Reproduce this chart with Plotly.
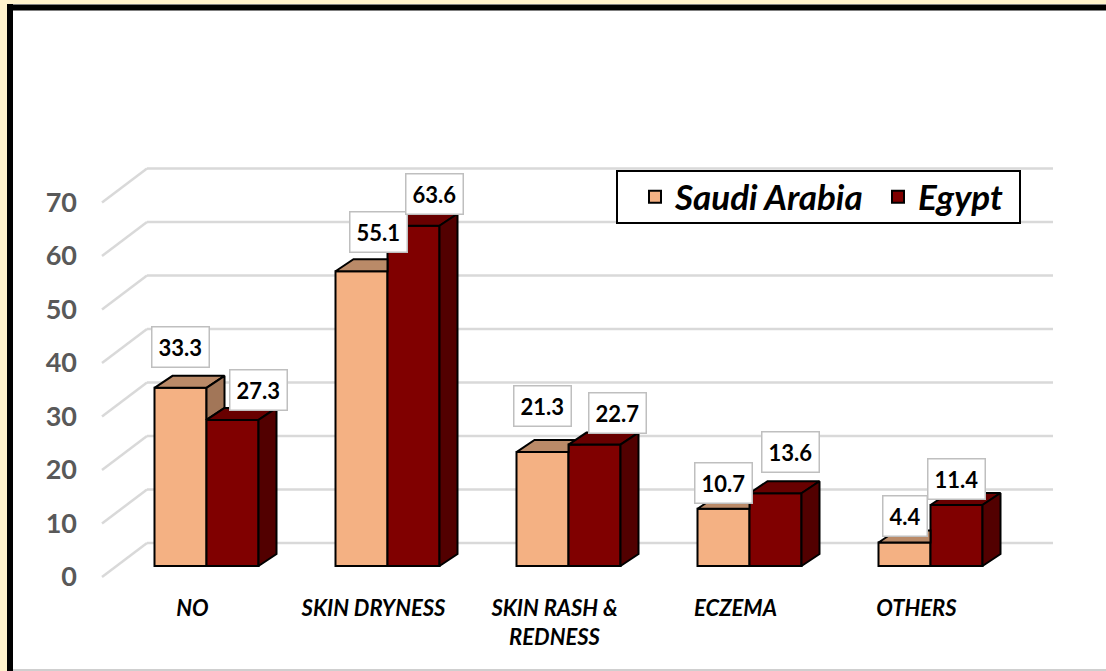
import plotly.graph_objects as go

# ---------------- data ----------------
CATEGORIES = ["NO", "SKIN DRYNESS", "SKIN RASH & REDNESS", "ECZEMA", "OTHERS"]
CATEGORY_LABELS = ["NO", "SKIN DRYNESS", "SKIN RASH &<br>REDNESS", "ECZEMA", "OTHERS"]
SAUDI = [33.3, 55.1, 21.3, 10.7, 4.4]
EGYPT = [27.3, 63.6, 22.7, 13.6, 11.4]
SERIES_NAMES = ["Saudi Arabia", "Egypt"]
Y_TICKS = [0, 10, 20, 30, 40, 50, 60, 70]

# ---------------- layout geometry (pixels) ----------------
W, H = 1106, 671
L, B = 100, 81
PLOT_W, PLOT_H = W - L, H - B
PX_CAT = 181.0     # px per category
PX_UNIT = 5.35     # px per value unit
X0_PX = 206.5      # pixel x of first category centre (bar front plane)
Y0_PX = 566.0      # pixel y of value 0 on bar front plane
BAR_W = 52.0 / PX_CAT
DEPTH_X, DEPTH_Y = 18.0, 12.0
WALL_LEFT_PX, WALL_RIGHT_PX, FRONT_LEFT_PX = 147.0, 1053.0, 102.0
WALL_UP_PX, FRONT_DOWN_PX = 23.0, 11.0
LEGEND_BOX = (617, 171, 1020, 223)   # left, top, right, bottom (px)

# label offsets (px: right, up) relative to bar front top centre
SHIFT_S = [(0, 41), (17, 39), (0, 46), (0, 26), (0, 26)]
SHIFT_E = [(26, 30), (21, 32), (23, 32), (15, 41), (0, 26)]

C_S_FRONT, C_S_TOP, C_S_SIDE = "#F4B183", "#BA8A68", "#A27658"
C_E_FRONT, C_E_TOP, C_E_SIDE = "#800000", "#680000", "#520000"
FONT = "Lato, 'Open Sans', sans-serif"


def dxu(px):
    return px / PX_CAT


def dyu(px):
    return px / PX_UNIT


def px_to_x(px):
    return (px - X0_PX) / PX_CAT


def paper_x(px):
    return (px - L) / PLOT_W


def paper_y(py):
    return 1 - py / PLOT_H


x_range = [px_to_x(L), px_to_x(W)]
y_range = [-(PLOT_H - Y0_PX) / PX_UNIT, Y0_PX / PX_UNIT]
idx = list(range(len(CATEGORIES)))

fig = go.Figure()

# front faces as real bars
fig.add_trace(go.Bar(x=idx, y=SAUDI, name=SERIES_NAMES[0], width=BAR_W, offset=-BAR_W,
                     legendwidth=198,
                     marker=dict(color=C_S_FRONT, line=dict(color="black", width=2))))
fig.add_trace(go.Bar(x=idx, y=EGYPT, name=SERIES_NAMES[1], width=BAR_W, offset=0,
                     legendwidth=90,
                     marker=dict(color=C_E_FRONT, line=dict(color="black", width=2))))

ddx, ddy = dxu(DEPTH_X), dyu(DEPTH_Y)


def poly_trace(xs, ys, color):
    return go.Scatter(x=xs, y=ys, mode="lines", fill="toself", fillcolor=color,
                      line=dict(color="black", width=2), hoverinfo="skip", showlegend=False)


def add_poly(xs, ys, pts):
    xs += [p[0] for p in pts] + [pts[0][0], None]
    ys += [p[1] for p in pts] + [pts[0][1], None]


# 3D top / side faces, Saudi faces clipped where the Egypt bar is in front
sx_top, sy_top, sx_side, sy_side = [], [], [], []
ex_top, ey_top, ex_side, ey_side = [], [], [], []
for i in idx:
    vs, ve = SAUDI[i], EGYPT[i]
    xl, xm, xr = i - BAR_W, i, i + BAR_W
    if ve <= vs:
        pts = [(xl, vs), (xm, vs), (xm + ddx, vs + ddy), (xl + ddx, vs + ddy)]
    elif ve >= vs + ddy:
        pts = [(xl, vs), (xm, vs), (xm, vs + ddy), (xl + ddx, vs + ddy)]
    else:
        pts = [(xl, vs), (xm, vs), (xm, ve), (xm + ddx * (ve - vs) / ddy, ve),
               (xm + ddx, vs + ddy), (xl + ddx, vs + ddy)]
    add_poly(sx_top, sy_top, pts)
    if vs > ve:
        add_poly(sx_side, sy_side, [(xm, ve), (xm + ddx, ve + ddy), (xm + ddx, vs + ddy), (xm, vs)])
    add_poly(ex_top, ey_top, [(xm, ve), (xr, ve), (xr + ddx, ve + ddy), (xm + ddx, ve + ddy)])
    add_poly(ex_side, ey_side, [(xr, 0), (xr + ddx, ddy), (xr + ddx, ve + ddy), (xr, ve)])

fig.add_trace(poly_trace(sx_top, sy_top, C_S_TOP))
if sx_side:
    fig.add_trace(poly_trace(sx_side, sy_side, C_S_SIDE))
fig.add_trace(poly_trace(ex_top, ey_top, C_E_TOP))
fig.add_trace(poly_trace(ex_side, ey_side, C_E_SIDE))

# wall gridlines
shapes = []
grid = dict(color="#D9D9D9", width=2.5)
for t in Y_TICKS:
    yb = t + dyu(WALL_UP_PX)
    yf = t - dyu(FRONT_DOWN_PX)
    shapes.append(dict(type="line", xref="x", yref="y", layer="below",
                       x0=px_to_x(FRONT_LEFT_PX), y0=yf, x1=px_to_x(WALL_LEFT_PX), y1=yb, line=grid))
    shapes.append(dict(type="line", xref="x", yref="y", layer="below",
                       x0=px_to_x(WALL_LEFT_PX), y0=yb, x1=px_to_x(WALL_RIGHT_PX), y1=yb, line=grid))

# legend frame
lb = LEGEND_BOX
shapes.append(dict(type="rect", xref="paper", yref="paper", layer="above",
                   x0=paper_x(lb[0]), x1=paper_x(lb[2]), y0=paper_y(lb[3]), y1=paper_y(lb[1]),
                   fillcolor="white", line=dict(color="black", width=2)))

# outer frame
shapes += [
    dict(type="rect", xref="paper", yref="paper", x0=paper_x(0), x1=paper_x(7), y0=paper_y(H), y1=paper_y(0),
         fillcolor="#FFF2CC", line=dict(width=0), layer="below"),
    dict(type="rect", xref="paper", yref="paper", x0=paper_x(0), x1=paper_x(W), y0=paper_y(4), y1=paper_y(0),
         fillcolor="#FFF2CC", line=dict(width=0), layer="below"),
    dict(type="line", xref="paper", yref="paper", x0=paper_x(10), x1=paper_x(10), y0=paper_y(H), y1=paper_y(4),
         line=dict(color="black", width=6)),
    dict(type="line", xref="paper", yref="paper", x0=paper_x(7), x1=paper_x(W), y0=paper_y(7.5), y1=paper_y(7.5),
         line=dict(color="black", width=6)),
    dict(type="line", xref="paper", yref="paper", x0=paper_x(13), x1=paper_x(W), y0=paper_y(670), y1=paper_y(670),
         line=dict(color="#BFBFBF", width=1.5)),
]

# data labels
annotations = []
for vals, shifts, off in ((SAUDI, SHIFT_S, -BAR_W / 2), (EGYPT, SHIFT_E, BAR_W / 2)):
    for i, v in enumerate(vals):
        annotations.append(dict(x=i + off, y=v, xref="x", yref="y", text=f"{v:.1f}",
                                showarrow=False, xshift=shifts[i][0], yshift=shifts[i][1],
                                bgcolor="white", bordercolor="#BFBFBF", borderwidth=1.5, borderpad=6,
                                font=dict(family=FONT, size=22, color="black", weight="bold")))

fig.update_layout(
    width=W, height=H,
    margin=dict(l=L, r=0, t=0, b=B, autoexpand=False),
    paper_bgcolor="white", plot_bgcolor="rgba(0,0,0,0)",
    barmode="overlay",
    shapes=shapes, annotations=annotations,
    showlegend=True,
    legend=dict(orientation="h", x=paper_x(635), y=paper_y((lb[1] + lb[3]) / 2),
                xanchor="left", yanchor="middle",
                bgcolor="rgba(0,0,0,0)", borderwidth=0,
                font=dict(family=FONT, size=35, color="black", weight="bold", style="italic"),
                itemwidth=30, traceorder="normal"),
    xaxis=dict(range=x_range, tickvals=idx, ticktext=CATEGORY_LABELS, showgrid=False, zeroline=False,
               showline=False, ticks="", ticklabelshift=-14, ticklabelstandoff=3,
               tickfont=dict(family=FONT, size=22, color="black", weight="bold", style="italic")),
    yaxis=dict(range=y_range, tickvals=Y_TICKS, showgrid=False, zeroline=False, showline=False,
               ticks="", ticklabelshift=11, ticklabelstandoff=22,
               tickfont=dict(family=FONT, size=27, color="#595959", weight="bold")),
)

fig.write_html("out.html", config={"displayModeBar": False},
               post_script="document.body.style.margin='0px';document.body.style.overflow='hidden';")
